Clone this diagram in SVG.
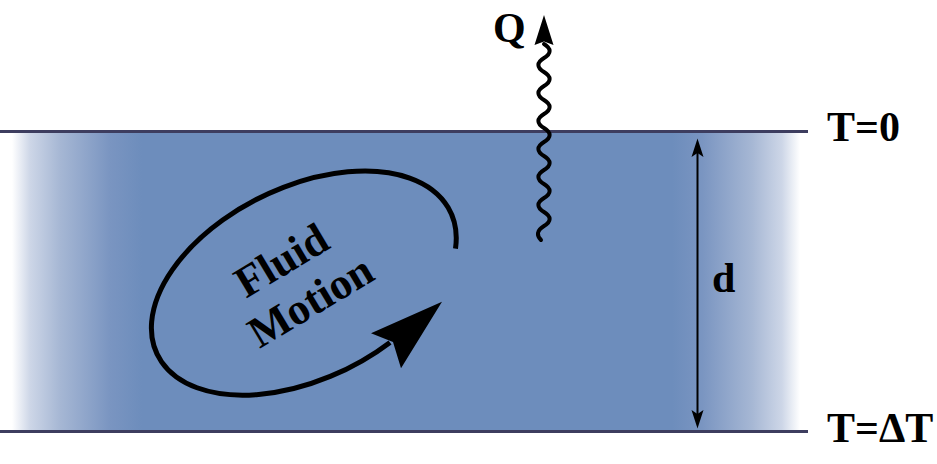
<svg xmlns="http://www.w3.org/2000/svg" width="937" height="464" viewBox="0 0 937 464">
<style>
.lbl{font-family:"Liberation Serif","Times New Roman",serif;font-weight:bold;fill:#000}
.bound{stroke:#3d3d5f;stroke-width:3;fill:none}
.blk{stroke:#000;fill:none}
</style>
<defs>
<linearGradient id="fluidGrad" gradientUnits="userSpaceOnUse" x1="12" y1="0" x2="800" y2="0">
<stop offset="0" stop-color="#ffffff"/>
<stop offset="0.023" stop-color="#cdd6e7"/>
<stop offset="0.061" stop-color="#a6b7d4"/>
<stop offset="0.124" stop-color="#7a95c1"/>
<stop offset="0.165" stop-color="#6d8dbc"/>
<stop offset="0.838" stop-color="#6d8dbc"/>
<stop offset="0.876" stop-color="#7a95c1"/>
<stop offset="0.939" stop-color="#a6b7d4"/>
<stop offset="0.977" stop-color="#cdd6e7"/>
<stop offset="1" stop-color="#ffffff"/>
</linearGradient>
</defs>
<g id="fluid-layer">
<rect x="0" y="131.5" width="808" height="300" fill="url(#fluidGrad)"/>
<line class="bound" x1="0" y1="131.5" x2="808" y2="131.5"/>
<line class="bound" x1="0" y1="431.5" x2="808" y2="431.5"/>
</g>
<g id="label-top"><text class="lbl" x="827" y="141" font-size="42">T=0</text></g>
<g id="label-bottom"><text class="lbl" x="827" y="442" font-size="42">T=ΔT</text></g>
<g id="label-d"><text class="lbl" x="712" y="292" font-size="42">d</text></g>
<g id="label-q"><text class="lbl" x="493" y="42" font-size="42">Q</text></g>
<g id="fluid-motion">
<text class="lbl" font-size="44" text-anchor="middle" transform="translate(289,273) rotate(-31)"><tspan x="0" y="0">Fluid</tspan><tspan x="4" y="50">Motion</tspan></text>
</g>
<g id="connectors">
<path class="blk" stroke-width="5" d="M455.5,248.6 A163 96 -26 1 0 390,342.4"/>
<polygon points="442,301.7 371,333.3 393,342 401,368.3" fill="#000"/>
<path class="blk" stroke-width="4" stroke-linecap="round" d="M544,44 C551.5,48.5 551.5,53.5 544,58 S536.5,67.5 544,72 S551.5,81.5 544,86 S536.5,95.5 544,100 S551.5,109.5 544,114 S536.5,123.5 544,128 S551.5,137.5 544,142 S536.5,151.5 544,156 S551.5,165.5 544,170 S536.5,179.5 544,184 S551.5,193.5 544,198 S536.5,207.5 544,212 S551.5,221.5 544,226 S536.5,235.5 541,240"/>
<polygon points="544,15 553.5,45 544,41.5 534.5,45" fill="#000"/>
<line class="blk" stroke-width="2" x1="697.5" y1="145" x2="697.5" y2="421"/>
<polygon points="697.5,138.5 703.5,157 697.5,153 691.5,157" fill="#000"/>
<polygon points="697.5,428.5 703.5,410 697.5,414 691.5,410" fill="#000"/>
</g>
</svg>
